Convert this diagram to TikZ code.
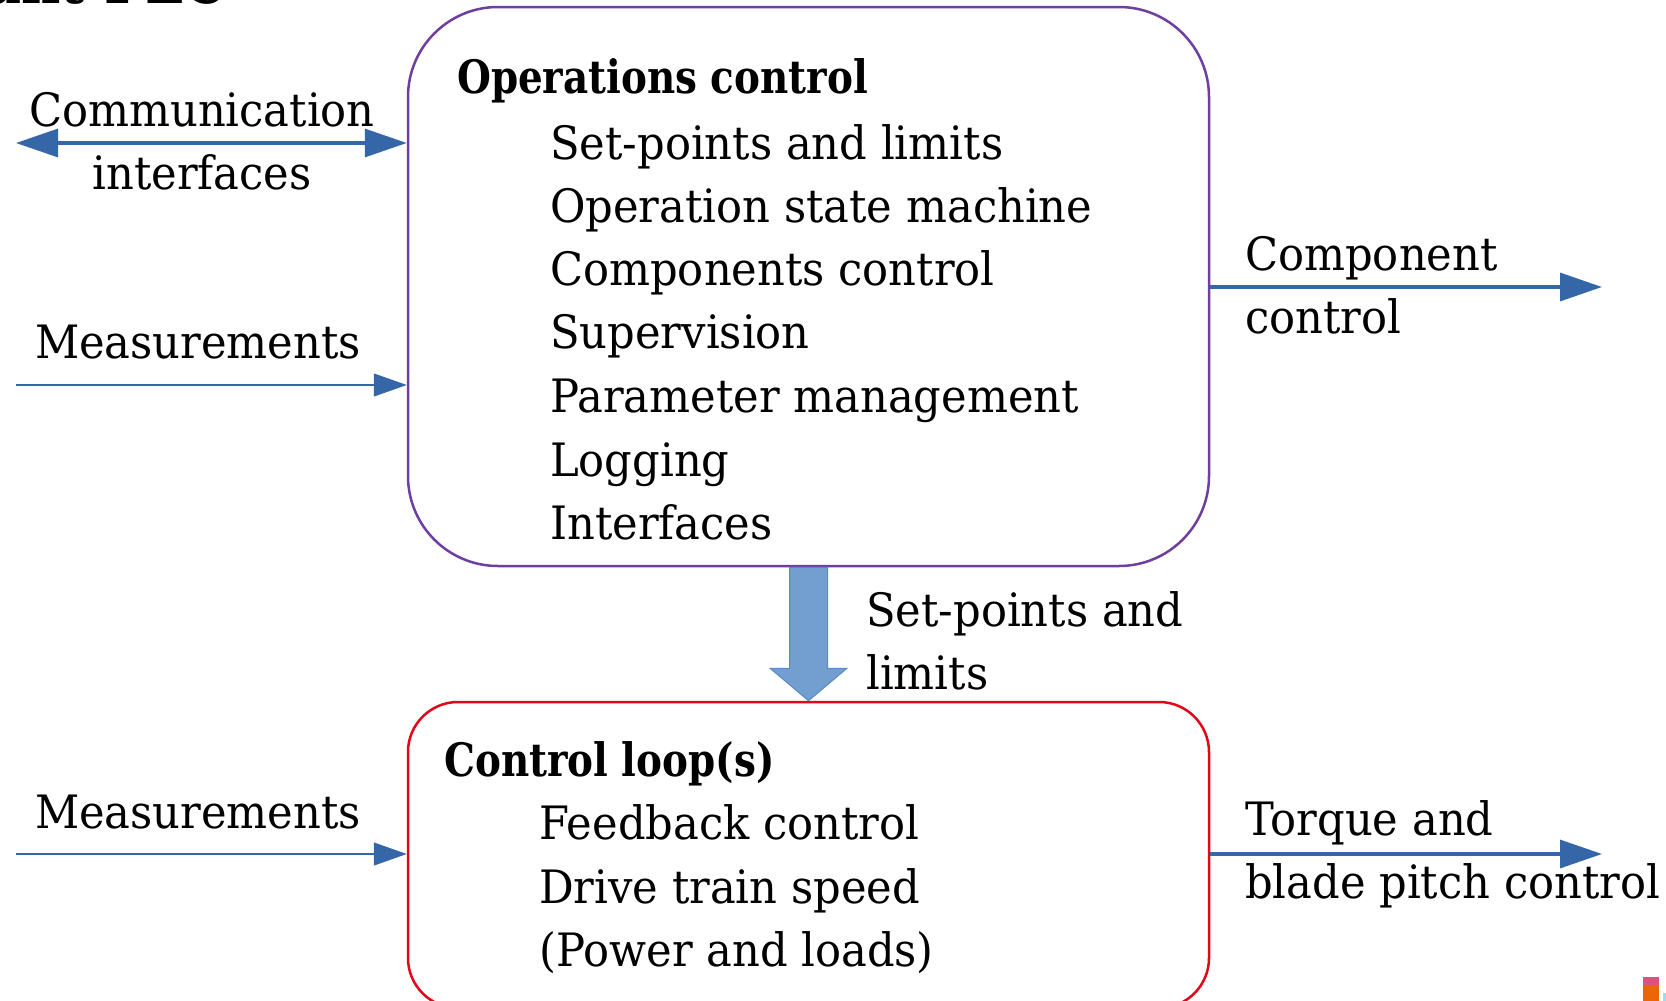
\documentclass[tikz,border=0pt]{standalone}
\usepackage{fontspec}
\setmainfont{DejaVu Serif}[FakeStretch=0.94]
\newfontfamily\headfont{DejaVu Serif}[FakeStretch=0.845]
\usetikzlibrary{arrows.meta,calc}
\definecolor{arrblue}{HTML}{3567A8}
\definecolor{fatfill}{HTML}{729FCF}
\definecolor{fatline}{HTML}{5A8AC6}
\definecolor{boxpurple}{HTML}{6F3FA0}
\definecolor{boxred}{HTML}{E3061B}
\definecolor{tagpink}{HTML}{D6547F}
\definecolor{tagorange}{HTML}{EB6608}
\definecolor{taglblue}{HTML}{A8D8F0}
\tikzset{
  txt/.style={inner sep=0pt, anchor=base west, font=\fontsize{46}{55}\selectfont},
  ctxt/.style={txt, anchor=base},
  head/.style={inner sep=0pt, anchor=base west, font=\fontsize{46}{55}\selectfont\headfont\bfseries},
  opsbox/.style={draw=boxpurple, line width=2.5pt, rounded corners=90pt, minimum width=801pt, minimum height=559pt, inner sep=0pt},
  loopbox/.style={draw=boxred, line width=2.5pt, rounded corners=50pt, minimum width=801pt, minimum height=306pt, inner sep=0pt},
  thickarr/.style={draw=arrblue, line width=3.2pt, -{Triangle[length=42pt,width=28pt]}},
  thinarr/.style={draw=arrblue, line width=1.2pt, -{Triangle[length=33pt,width=23pt]}},
  fatarr/.style={fill=fatfill, draw=fatline, line width=1pt},
}
\begin{document}
\begin{tikzpicture}[x=1pt,y=-1pt]
\useasboundingbox (0,0) rectangle (1666,1001);
% cut-off heading
\node[head, font=\fontsize{64}{70}\selectfont\headfont\bfseries] (title) at (-14,4) {ant PLC};
% boxes
\node[opsbox] (ops) at (808.5,286.5) {};
\node[loopbox] (loop) at (808.5,855) {};
% ops texts
\node[head] (opsT) at (457,93) {Operations control};
\node[txt] (o1) at (550,159) {Set-points and limits};
\node[txt] (o2) at (550,222) {Operation state machine};
\node[txt] (o3) at (550,285) {Components control};
\node[txt] (o4) at (550,348) {Supervision};
\node[txt] (o5) at (550,412) {Parameter management};
\node[txt] (o6) at (550,476) {Logging};
\node[txt] (o7) at (550,539) {Interfaces};
% loop texts
\node[head] (loopT) at (444,776) {Control loop(s)};
\node[txt] (l1) at (539,839) {Feedback control};
\node[txt] (l2) at (539,903) {Drive train speed};
\node[txt] (l3) at (539,966) {(Power and loads)};
% left labels
\node[ctxt] (comm1) at (202,126) {Communication};
\node[ctxt] (comm2) at (202,189) {interfaces};
\node[ctxt] (meas1) at (198,358) {Measurements};
\node[ctxt] (meas2) at (198,828) {Measurements};
% right labels
\node[txt] (comp1) at (1245,270) {Component};
\node[txt] (comp2) at (1245,333) {control};
\node[txt] (torq1) at (1245,835) {Torque and};
\node[txt] (torq2) at (1245,898) {blade pitch control};
\node[txt] (sp1) at (866,626) {Set-points and};
\node[txt] (sp2) at (866,689) {limits};
% free ends
\coordinate (commL) at (16,143);
\coordinate (m1L) at (16,385);
\coordinate (m2L) at (16,854);
\coordinate (compR) at (1602,287);
\coordinate (torqR) at (1602,854);
% connectors
\draw[thickarr, {Triangle[length=42pt,width=28pt]}-{Triangle[length=42pt,width=28pt]}] (commL) -- (ops.west |- commL);
\draw[thinarr] (m1L) -- (ops.west |- m1L);
\draw[thinarr] (m2L) -- (loop.west |- m2L);
\draw[thickarr] (ops.east |- compR) -- (compR);
\draw[thickarr] (loop.east |- torqR) -- (torqR);
% fat arrow
\draw[fatarr] ($(ops.south)+(-19,0)$) -- ($(ops.south)+(19,0)$) -- ($(ops.south)+(19,101)$) -- ($(ops.south)+(38.5,101)$) -- (loop.north) -- ($(ops.south)+(-38.5,101)$) -- ($(ops.south)+(-19,101)$) -- cycle;
% corner tags
\fill[tagpink] (1643,977) rectangle (1659,985);
\fill[tagorange] (1643,985) rectangle (1659,1001);
\fill[taglblue] (1663,993) rectangle (1666,1001);
\end{tikzpicture}
\end{document}
